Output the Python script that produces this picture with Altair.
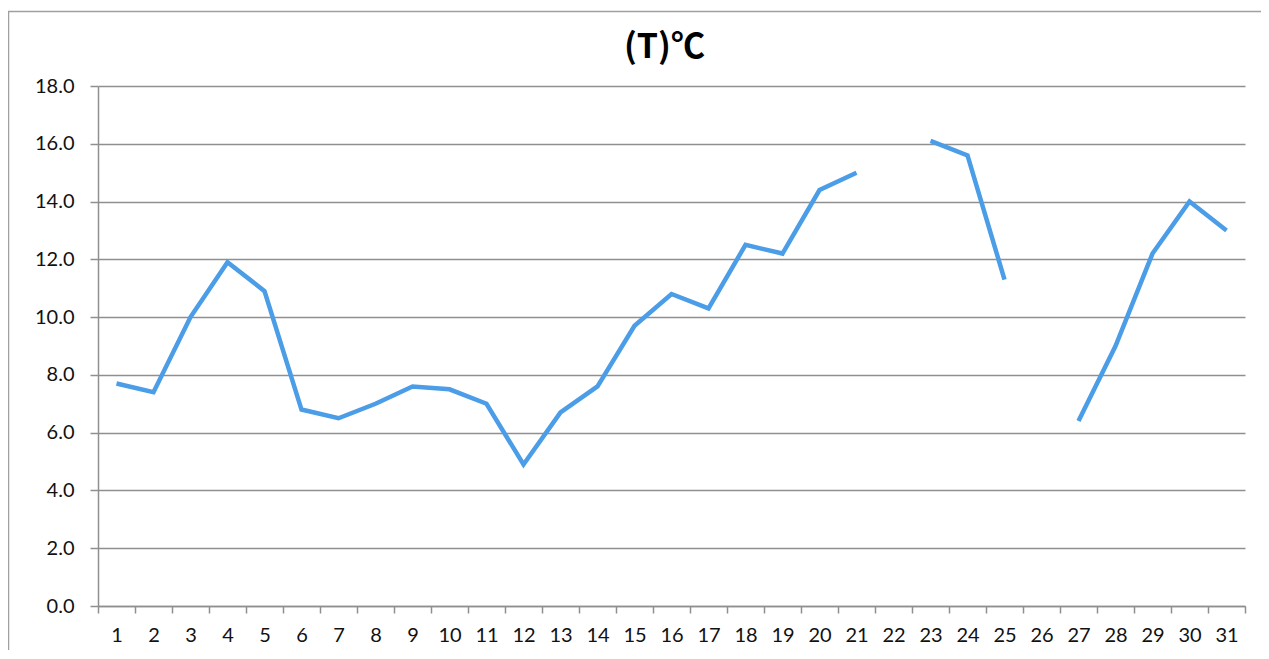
import altair as alt
import pandas as pd

days = list(range(1, 32))
temps = [7.7, 7.4, 10.0, 11.9, 10.9, 6.8, 6.5, 7.0, 7.6, 7.5, 7.0, 4.9, 6.7, 7.6,
         9.7, 10.8, 10.3, 12.5, 12.2, 14.4, 15.0, None, 16.1, 15.6, 11.3, None,
         6.4, 9.0, 12.2, 14.0, 13.0]
y_ticks = [0, 2, 4, 6, 8, 10, 12, 14, 16, 18]
title_text = "(T)℃"

df = pd.DataFrame({"day": days, "temp": temps})

GRID = "#8f8f8f"
FONT = "Lato"

line = alt.Chart(df).mark_line(
    color="#4A9DE6", strokeWidth=4.5, invalid="break-paths-show-domains"
).encode(
    x=alt.X(
        "day:O",
        sort=days,
        scale=alt.Scale(type="band", paddingInner=0, paddingOuter=0),
        axis=alt.Axis(
            title=None, labelAngle=0, tickBand="extent", tickSize=7,
            tickColor=GRID, tickWidth=1.5, domainColor=GRID, domainWidth=1.5,
            labelPadding=12, labelFontSize=20, labelFont=FONT, labelColor="#111111",
            grid=False,
        ),
    ),
    y=alt.Y(
        "temp:Q",
        scale=alt.Scale(domain=[0, 18], nice=False, zero=True),
        axis=alt.Axis(
            title=None, values=y_ticks, format=".1f", tickSize=8,
            tickColor=GRID, tickWidth=1.5, domainColor=GRID, domainWidth=1.5,
            gridColor=GRID, gridWidth=1.5, grid=True,
            labelPadding=16, labelFontSize=20, labelFont=FONT, labelColor="#111111",
        ),
    ),
)

frame = alt.Chart(pd.DataFrame({"a": [0]})).mark_rect(
    fillOpacity=0, stroke="#a0a0a0", strokeWidth=1.5
).encode(
    x=alt.value(-89.5), x2=alt.value(3000), y=alt.value(-74.5), y2=alt.value(3000)
)

chart = alt.layer(frame, line).properties(
    width=1147,
    height=520,
    padding={"left": 90, "top": 78, "right": 16, "bottom": 44},
    autosize=alt.AutoSizeParams(type="none"),
    title=alt.TitleParams(
        title_text, font="Noto Sans CJK SC", fontSize=34, fontWeight="bold",
        color="#000000", anchor="middle", frame="group", baseline="alphabetic",
        offset=-81, dx=-7,
    ),
).configure_view(strokeWidth=0)

chart.save("out.html", embed_options={"renderer": "svg", "actions": False})
